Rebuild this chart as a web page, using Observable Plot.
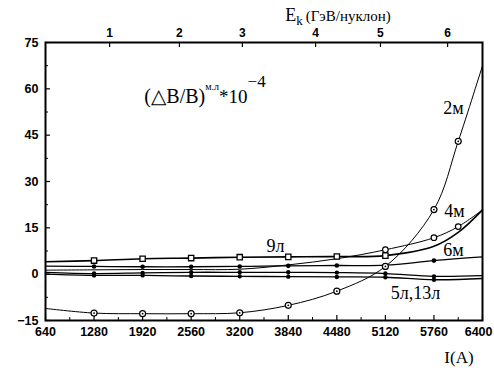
<!DOCTYPE html>
<html>
<head>
<meta charset="utf-8">
<script src="https://cdn.jsdelivr.net/npm/d3@7"></script>
<script src="https://cdn.jsdelivr.net/npm/@observablehq/plot@0.6"></script>
<style>
  html, body { margin: 0; padding: 0; background: #fff; }
  #chart { width: 494px; height: 370px; }
  .serif, .serif tspan { font-family: "Liberation Serif", "DejaVu Serif", "Times New Roman", serif !important; }
</style>
</head>
<body>
<div id="chart"></div>
<script>
// ---- data ----
const current = [640, 1280, 1920, 2560, 3200, 3840, 4480, 5120, 5760, 6400];
const currentHi = [640, 1280, 1920, 2560, 3200, 3840, 4480, 5120, 5760, 6080, 6400];
const currentMinor = [960, 1600, 2240, 2880, 3520, 4160, 4800, 5440, 6080];
const yTicks = [-15, 0, 15, 30, 45, 60, 75];
const yMinor = [-7.5, 7.5, 22.5, 37.5, 52.5, 67.5];
const energyLabels = ["1", "2", "3", "4", "5", "6"];
const energyAtCurrent = [1485, 2405, 3235, 4200, 5055, 5940];

const s2m  = [-11.1, -12.6, -12.8, -12.8, -12.5, -10.1, -5.5, 2.5, 20.9, 43.0, 67.5];
const s4m  = [1.3, 1.4, 1.5, 1.5, 1.6, 3.0, 5.0, 7.9, 11.8, 15.4, 20.8];
const s9l  = [4.0, 4.4, 5.0, 5.2, 5.5, 5.6, 5.7, 6.0, 9.0, 13.5, 20.8];
const s6m  = [2.6, 2.5, 2.4, 2.4, 2.5, 2.7, 2.8, 2.9, 4.4, 5.6];
const s5l  = [0.6, 0.2, 0.4, 0.6, 0.6, 0.6, 0.5, 0.2, -0.7, -0.5];
const s13l = [0.0, -0.4, -0.4, -0.6, -0.7, -0.8, -0.9, -1.0, -1.8, -1.4];

const curveLabels = [
  {text: "2м", I: 6017, v: 53.6},
  {text: "4м", I: 6031, v: 20.3},
  {text: "6м", I: 6017, v: 7.7},
  {text: "9л", I: 3672, v: 9.0},
  {text: "5л,13л", I: 5517, v: -6.2}
];

// ---- build tables ----
const toRows = (xs, ys, name) => xs.map((x, i) => ({I: x, v: ys[i], s: name}));
const r2m = toRows(currentHi, s2m, "2м");
const r4m = toRows(currentHi, s4m, "4м");
const r9l = toRows(currentHi, s9l, "9л");
const r6m = toRows(current, s6m, "6м");
const r5l = toRows(current, s5l, "5л");
const r13l = toRows(current, s13l, "13л");
const inner = rows => rows.filter(d => d.I > 640 && d.I < 6400);
const eMap = new Map(energyAtCurrent.map((d, i) => [d, energyLabels[i]]));
const lastCurrent = current[current.length - 1];

const lineOpts = {x: "I", y: "v", stroke: "black", strokeWidth: 1.3, curve: "catmull-rom"};

const plot = Plot.plot({
  width: 494,
  height: 370,
  marginLeft: 45,
  marginRight: 12,
  marginTop: 42,
  marginBottom: 50,
  x: {domain: [640, 6400]},
  y: {domain: [-15, 75]},
  style: {fontFamily: "Liberation Sans, Arial, sans-serif", fontSize: "12px", background: "white", color: "black"},
  marks: [
    Plot.text(current.filter(d => d !== lastCurrent), {x: d => d, text: d => String(d), frameAnchor: "bottom", dy: 15, fontWeight: "bold", fontSize: 12.5, fill: "black"}),
    Plot.text([lastCurrent], {x: d => d, text: d => String(d), frameAnchor: "bottom", dy: 15, dx: 10, textAnchor: "end", fontWeight: "bold", fontSize: 12.5, fill: "black"}),
    Plot.axisX({anchor: "top", ticks: energyAtCurrent, tickFormat: d => eMap.get(d), tickSize: 0, tickPadding: 6, fontWeight: "bold", label: null}),
    Plot.axisY({ticks: yTicks, tickFormat: d => d < 0 ? "−" + Math.abs(d) : String(d), tickSize: 0, tickPadding: 7, fontWeight: "bold", fontSize: 12.5, label: null}),
    Plot.tickY(yTicks, {y: d => d, insetRight: 432, stroke: "black", strokeWidth: 1.2}),
    Plot.tickY(yMinor, {y: d => d, insetRight: 434, stroke: "black", strokeWidth: 1}),
    Plot.tickX(current, {x: d => d, insetTop: 273, stroke: "black", strokeWidth: 1.2}),
    Plot.tickX(currentMinor, {x: d => d, insetTop: 275, stroke: "black", strokeWidth: 1}),
    Plot.tickX(energyAtCurrent, {x: d => d, insetBottom: 273, stroke: "black", strokeWidth: 1.2}),
    Plot.frame({stroke: "black", strokeWidth: 2}),
    Plot.line(r13l, lineOpts),
    Plot.line(r5l, lineOpts),
    Plot.line(r6m, lineOpts),
    Plot.line(r4m, {...lineOpts, strokeWidth: 1}),
    Plot.line(r9l, {...lineOpts, strokeWidth: 1.6}),
    Plot.line(r2m, {...lineOpts, strokeWidth: 1}),
    Plot.dot(inner(r13l), {x: "I", y: "v", r: 2.2, fill: "black"}),
    Plot.dot(inner(r5l), {x: "I", y: "v", r: 2.2, fill: "black"}),
    Plot.dot(inner(r6m), {x: "I", y: "v", r: 2.3, fill: "black"}),
    Plot.dot(inner(r4m).filter(d => d.I >= 5120), {x: "I", y: "v", r: 2.8, fill: "white", stroke: "black", strokeWidth: 1.2}),
    Plot.dot(inner(r9l).filter(d => d.I <= 5120), {x: "I", y: "v", symbol: "square", r: 3, fill: "white", stroke: "black", strokeWidth: 1.3}),
    Plot.dot(inner(r2m), {x: "I", y: "v", r: 3, fill: "white", stroke: "black", strokeWidth: 1.2}),
    Plot.dot(inner(r2m), {x: "I", y: "v", r: 0.9, fill: "black"}),
    Plot.text(curveLabels, {x: "I", y: "v", text: "text", className: "serif", fontSize: 18, fill: "black", textAnchor: "middle"})
  ]
});

document.getElementById("chart").appendChild(plot);

// rich text annotations (title of top axis, x label, formula)
const svg = d3.select(plot);
const t1 = svg.append("text").attr("class", "serif").attr("x", 338).attr("y", 21).attr("fill", "black");
t1.append("tspan").attr("font-size", 18).text("E");
t1.append("tspan").attr("font-size", 13).attr("dy", 4).text("k");
t1.append("tspan").attr("font-size", 15).attr("dy", -4).attr("dx", 3).text("(ГэВ/нуклон)");

svg.append("text").attr("class", "serif").attr("x", 459).attr("y", 363).attr("text-anchor", "middle")
  .attr("font-size", 17).attr("fill", "black").text("I(A)");

const t2 = svg.append("text").attr("class", "serif").attr("x", 205).attr("y", 103).attr("fill", "black");
t2.append("tspan").attr("font-size", 20).text("(△B/B)");
t2.append("tspan").attr("font-size", 10).attr("dy", -13).text("м.л");
t2.append("tspan").attr("font-size", 19).attr("dy", 13).text("*10");
t2.append("tspan").attr("font-size", 17).attr("dy", -16).text("−4");
</script>
</body>
</html>
